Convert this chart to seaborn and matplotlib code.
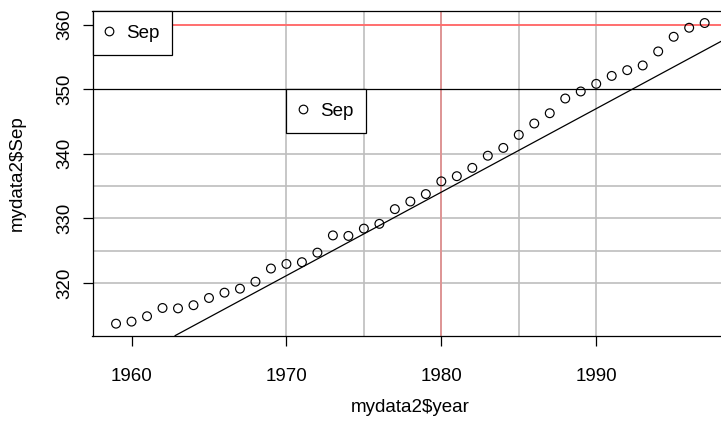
import numpy as np
import pandas as pd
import matplotlib
matplotlib.use("Agg")
import matplotlib.pyplot as plt
import seaborn as sns
from matplotlib.lines import Line2D

# ---- data (Mauna Loa CO2, September values) ----
years = list(range(1959, 1998))
sep = [313.68, 314.00, 314.83, 316.11, 316.05, 316.54, 317.66, 318.48, 319.10,
       320.18, 322.22, 322.93, 323.20, 324.68, 327.35, 327.27, 328.40, 329.14,
       331.42, 332.60, 333.75, 335.72, 336.52, 337.81, 339.69, 340.90, 342.92,
       344.68, 346.27, 348.55, 349.64, 350.82, 352.05, 352.94, 353.67, 355.84,
       358.11, 359.51, 360.24]
line_slope = 1.293
line_at_1980 = 334.05
line_intercept = line_at_1980 - line_slope * 1980
h_gray = [320, 325, 330, 335, 340]
v_gray = [1970, 1975, 1985, 1990]
v_red = 1980
h_red = 360
h_black = 350
xticks = [1960, 1970, 1980, 1990]
yticks = [320, 330, 340, 350, 360]
legend2_anchor = (1970, 350)

df = pd.DataFrame({"year": years, "Sep": sep})

sns.set_style("white")
plt.rcParams["font.family"] = ["Liberation Sans", "DejaVu Sans"]
plt.rcParams["text.color"] = "black"
plt.rcParams["axes.labelcolor"] = "black"
plt.rcParams["xtick.color"] = "black"
plt.rcParams["ytick.color"] = "black"

FS = 13.5
W, H = 721, 424
fig = plt.figure(figsize=(W / 100, H / 100), dpi=100)
left_px, right_px, top_px, bot_px = 92.5, 728.2, 11.0, 335.7
ax = fig.add_axes([left_px / W, (H - bot_px) / H, (right_px - left_px) / W, (bot_px - top_px) / H])

# R-style 4% range extension
xr = max(years) - min(years)
yr = max(sep) - min(sep)
ax.set_xlim(min(years) - 0.04 * xr, max(years) + 0.04 * xr)
ax.set_ylim(min(sep) - 0.04 * yr, max(sep) + 0.04 * yr)

# reference lines
for h in h_gray:
    ax.axhline(h, color="#BEBEBE", lw=1.2, zorder=1)
for v in v_gray:
    ax.axvline(v, color="#BEBEBE", lw=1.2, zorder=1)
ax.axvline(v_red, color="#DE9494", lw=1.4, zorder=1.5)
ax.axhline(h_red, color="#FF6E6E", lw=1.4, zorder=1.5)
ax.axhline(h_black, color="black", lw=0.9, zorder=1.5)

# points
sns.scatterplot(data=df, x="year", y="Sep", ax=ax, marker="o", s=40,
                color="black", linewidth=0.85, zorder=3, legend=False)
pts = ax.collections[-1]
pts.set_facecolor("none")
pts.set_edgecolor("black")

# straight line
ax.axline((1980, line_slope * 1980 + line_intercept), slope=line_slope,
          color="black", lw=0.9, zorder=2)

# axes styling
for s in ax.spines.values():
    s.set_color("black")
    s.set_linewidth(0.9)
ax.set_xticks(xticks)
ax.set_yticks(yticks)
ax.tick_params(axis="both", direction="out", length=7.5, width=0.9, color="black",
               labelsize=FS, labelcolor="black", left=True, bottom=True)
ax.tick_params(axis="x", pad=16)
ax.tick_params(axis="y", pad=6)
for lab in ax.get_yticklabels():
    lab.set_rotation(90)
    lab.set_va("center")
ax.set_xlabel(r"mydata2\$year", fontsize=FS, labelpad=10, color="black")
ax.set_ylabel(r"mydata2\$Sep", fontsize=FS, labelpad=22, color="black")
ax.grid(False)

# legends
handle = Line2D([], [], marker="o", linestyle="none", markerfacecolor="none",
                markeredgecolor="black", markersize=6.2, markeredgewidth=0.85)
leg_kw = dict(handles=[handle], labels=["Sep"], loc="upper left", fontsize=FS,
              frameon=True, fancybox=False, shadow=False, framealpha=1,
              borderaxespad=0, borderpad=0.68, handletextpad=0.66,
              handlelength=0.45, handleheight=0.95, labelcolor="black",
              edgecolor="black", facecolor="white")
leg1 = ax.legend(bbox_to_anchor=(0, 1), bbox_transform=ax.transAxes, **leg_kw)
leg1.get_frame().set_linewidth(0.9)
leg1.set_zorder(5)
ax.add_artist(leg1)
leg2 = ax.legend(bbox_to_anchor=legend2_anchor, bbox_transform=ax.transData, **leg_kw)
leg2.get_frame().set_linewidth(0.9)
leg2.set_zorder(5)

fig.savefig("out.png", dpi=100)
